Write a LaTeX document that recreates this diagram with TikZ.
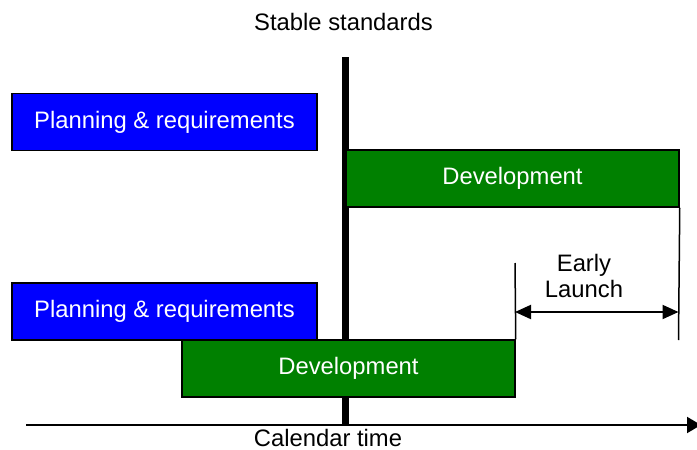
\documentclass[tikz,border=0pt]{standalone}
\usepackage{fontspec}
\setmainfont{Liberation Sans}
\usetikzlibrary{arrows.meta}
\definecolor{plblue}{RGB}{0,0,255}
\definecolor{devgreen}{RGB}{0,128,0}
\begin{document}
\begin{tikzpicture}[x=0.5pt,y=-0.5pt,
  font=\fontsize{11.9pt}{13pt}\selectfont,
  bar/.style={draw=black,line width=0.75pt,text=white,inner sep=0pt,minimum height=28.5pt},
  planbar/.style={bar,fill=plblue,minimum width=152.5pt},
  devbar/.style={bar,fill=devgreen,minimum width=166.5pt},
  label/.style={inner sep=0pt,text=black}]
\useasboundingbox (0,0) rectangle (697,450);
% stable standards line
\node[label] (stable) at (343.5,22) {Stable standards};
\coordinate (ltop) at (345.5,57);
\coordinate (lbot) at (345.5,425);
\draw[line width=3.5pt] (ltop) -- (lbot);
% boxes
\node[planbar] (p1) at (164.5,122) {Planning \& requirements};
\node[devbar] (d1) at (512.5,178.5) {Development};
\node[planbar] (p2) at (164.5,311.5) {Planning \& requirements};
\node[devbar] (d2) at (348.5,368.5) {Development};
% early launch
\coordinate (lt) at (515,263);
\coordinate (rb) at (678.5,340);
\draw[line width=0.75pt] (lt) -- (d2.north east);
\draw[line width=0.75pt] (d1.south east) -- (rb);
\coordinate (al) at (515,312);
\coordinate (ar) at (678.5,312);
\draw[line width=1pt,{Triangle[length=8pt,width=7pt]}-{Triangle[length=8pt,width=7pt]}] (al) -- (ar);
\node[label,align=center] (early) at (584,276) {Early\\Launch};
% axis
\coordinate (ax0) at (26,425);
\coordinate (ax1) at (701,425);
\draw[line width=1pt,-{Triangle[length=7pt,width=8pt]}] (ax0) -- (ax1);
\node[label] (cal) at (328,438) {Calendar time};
\end{tikzpicture}
\end{document}
